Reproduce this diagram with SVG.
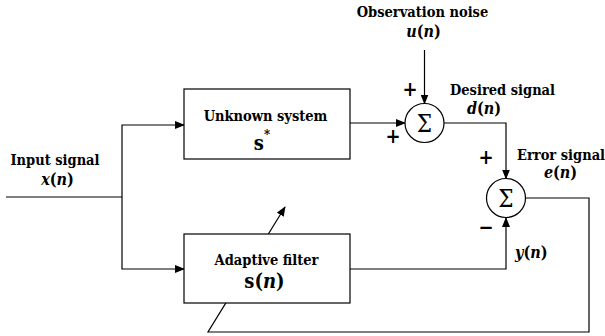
<svg xmlns="http://www.w3.org/2000/svg" width="605" height="336" viewBox="0 0 605 336">
<style>
text{font-family:"DejaVu Serif Condensed","DejaVu Serif",serif;fill:#000}
.ln{fill:none;stroke:#000;stroke-width:1.2}
.box{fill:#fff;stroke:#000;stroke-width:1.2}
.t{font-weight:bold;font-size:14.5px}
.m{font-weight:bold;font-size:16px}
.i{font-style:italic}
.sg{font-size:24px}
.pm{font-weight:bold;font-size:20px}
</style>
<defs>
<marker id="ah" markerWidth="10" markerHeight="8" refX="9" refY="4" orient="auto" markerUnits="userSpaceOnUse">
<path d="M0,0 L10,4 L0,8 Z" fill="#000"/>
</marker>
</defs>
<g id="connectors">
<path class="ln" d="M6 197 H122"/>
<path class="ln" d="M122 197 V125 H184" marker-end="url(#ah)"/>
<path class="ln" d="M122 197 V269 H184" marker-end="url(#ah)"/>
<path class="ln" d="M350 123 H405" marker-end="url(#ah)"/>
<path class="ln" d="M424.5 50 V103.5" marker-end="url(#ah)"/>
<path class="ln" d="M444 123 H506 V178.5" marker-end="url(#ah)"/>
<path class="ln" d="M350 269 H506 V218" marker-end="url(#ah)"/>
<path class="ln" d="M526 198 H589 V332 H208 L285 207" marker-end="url(#ah)"/>
</g>
<g id="unknown-system">
<rect class="box" x="184" y="89" width="166" height="70"/>
<text class="t" x="265.5" y="121" text-anchor="middle">Unknown system</text>
<text class="t" x="262" y="150" text-anchor="middle" style="font-size:20px">s<tspan dy="-11" style="font-size:13px">*</tspan></text>
</g>
<g id="adaptive-filter">
<rect class="box" x="184" y="234" width="166" height="69"/>
<text class="t" x="266.5" y="265" text-anchor="middle">Adaptive filter</text>
<text class="t" x="264.5" y="288" text-anchor="middle" style="font-size:20px">s(<tspan class="i">n</tspan>)</text>
</g>
<g id="sum1">
<circle class="box" cx="424.5" cy="123" r="19.5"/>
<text class="sg" x="424.5" y="132" text-anchor="middle">Σ</text>
<text class="pm" x="410" y="96" text-anchor="middle">+</text>
<text class="pm" x="393" y="143" text-anchor="middle">+</text>
</g>
<g id="sum2">
<circle class="box" cx="506" cy="198" r="19.5"/>
<text class="sg" x="506" y="207" text-anchor="middle">Σ</text>
<text class="pm" x="486" y="164" text-anchor="middle">+</text>
<text class="pm" x="486" y="234" text-anchor="middle">−</text>
</g>
<g id="labels">
<text class="t" x="55" y="165" text-anchor="middle">Input signal</text>
<text class="m" x="57.5" y="185" text-anchor="middle"><tspan class="i">x</tspan>(<tspan class="i">n</tspan>)</text>
<text class="t" x="422.5" y="17" text-anchor="middle">Observation noise</text>
<text class="m" x="423.5" y="37" text-anchor="middle"><tspan class="i">u</tspan>(<tspan class="i">n</tspan>)</text>
<text class="t" x="502.5" y="95" text-anchor="middle">Desired signal</text>
<text class="m" x="484" y="114" text-anchor="middle"><tspan class="i">d</tspan>(<tspan class="i">n</tspan>)</text>
<text class="t" x="561" y="160" text-anchor="middle">Error signal</text>
<text class="m" x="560.5" y="178" text-anchor="middle"><tspan class="i">e</tspan>(<tspan class="i">n</tspan>)</text>
<text class="m" x="515" y="258"><tspan class="i">y</tspan>(<tspan class="i">n</tspan>)</text>
</g>
</svg>
